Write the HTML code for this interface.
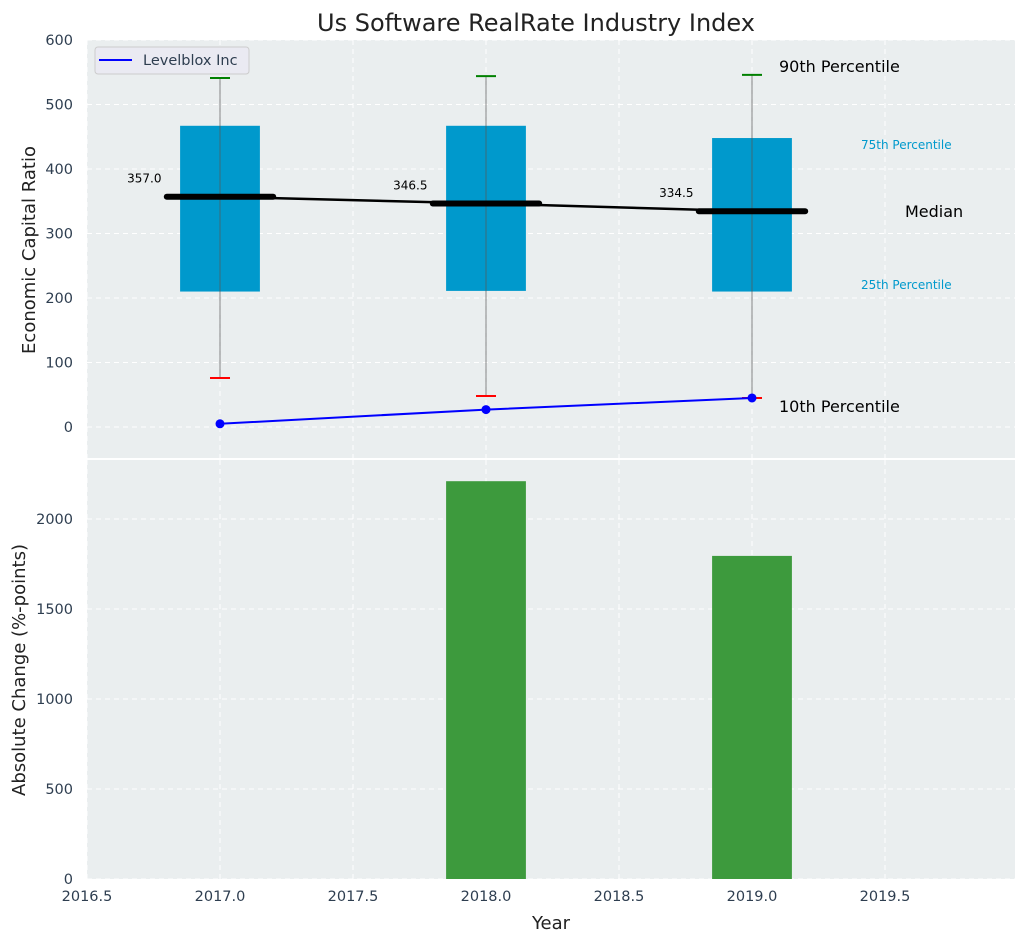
<!DOCTYPE html>
<html><head><meta charset="utf-8"><style>
body{margin:0;background:#fff;}
svg{display:block;font-family:"DejaVu Sans","Liberation Sans",sans-serif;}
</style></head><body>
<svg id="chart" width="1026" height="942" xmlns="http://www.w3.org/2000/svg"></svg>
<script>
const years=[2017,2018,2019];
const p10=[76,48,45];
const p25=[210,211,210];
const medians=[357.0,346.5,334.5];
const p75=[467,467,448];
const p90=[541,544,546];
const company=[5,27,45];
const changes=[0,2210,1795];
const xTicks=[2016.5,2017,2017.5,2018,2018.5,2019,2019.5];
const yTicksTop=[0,100,200,300,400,500,600];
const yTicksBot=[0,500,1000,1500,2000];

const svg=document.getElementById('chart');
const NS='http://www.w3.org/2000/svg';
function el(tag,attrs,parent,text){const e=document.createElementNS(NS,tag);for(const k in attrs)e.setAttribute(k,attrs[k]);if(text!==undefined)e.textContent=text;(parent||svg).appendChild(e);return e;}
const L=87,R=1015,S=266;
const xMin=2016.5;
const X=v=>L+(v-xMin)*S;
const T1=40,B1=458,T2=460,B2=879;
const Yt=v=>427-v*0.645;
const Yb=v=>879-v*0.18;

let e=el('rect',{x:L,y:T1,width:R-L,height:B1-T1,fill:'#eaeeef'});

e=el('rect',{x:L,y:T2,width:R-L,height:B2-T2,fill:'#eaeeef'});


xTicks.forEach(t=>{
  el('line',{x1:X(t),x2:X(t),y1:T1,y2:B1,stroke:'#fff','stroke-dasharray':'5,4','stroke-width':1});
  el('line',{x1:X(t),x2:X(t),y1:T2,y2:B2,stroke:'#fff','stroke-dasharray':'5,4','stroke-width':1});
  const tl=el('text',{x:X(t),y:901,'text-anchor':'middle','font-size':14.5,fill:'#2e3e50'},null,t.toFixed(1));
  
});
yTicksTop.forEach(t=>{
  el('line',{x1:L,x2:R,y1:Yt(t),y2:Yt(t),stroke:'#fff','stroke-dasharray':'5,4'});
  const tl=el('text',{x:73,y:Yt(t)+5,'text-anchor':'end','font-size':14.5,fill:'#2e3e50'},null,t);
  
});
yTicksBot.forEach(t=>{
  el('line',{x1:L,x2:R,y1:Yb(t),y2:Yb(t),stroke:'#fff','stroke-dasharray':'5,4'});
  const tl=el('text',{x:73,y:Yb(t)+5,'text-anchor':'end','font-size':14.5,fill:'#2e3e50'},null,t);
  
});

years.forEach((y,i)=>{
  const b=el('rect',{x:X(y-0.15),y:Yt(p75[i]),width:0.3*S,height:Yt(p25[i])-Yt(p75[i]),fill:'#0099cc'});
  
  el('line',{x1:X(y),x2:X(y),y1:Yt(p90[i]),y2:Yt(p10[i]),stroke:'#555','stroke-opacity':0.7,'stroke-width':1});
  const w1=el('line',{x1:X(y)-10,x2:X(y)+10,y1:Yt(p90[i]),y2:Yt(p90[i]),stroke:'green','stroke-width':2});
  
  const w2=el('line',{x1:X(y)-10,x2:X(y)+10,y1:Yt(p10[i]),y2:Yt(p10[i]),stroke:'red','stroke-width':2});
  
});
let pts=years.map((y,i)=>X(y)+','+Yt(medians[i])).join(' ');
e=el('polyline',{points:pts,fill:'none',stroke:'#000','stroke-width':2.5});

years.forEach((y,i)=>{
  const m=el('line',{x1:X(y-0.2),x2:X(y+0.2),y1:Yt(medians[i]),y2:Yt(medians[i]),stroke:'#000','stroke-width':6,'stroke-linecap':'round'});
  
  const t=el('text',{x:X(y-0.22),y:Yt(medians[i])-14,'text-anchor':'end','font-size':12,fill:'#000'},null,medians[i].toFixed(1));
  
});
pts=years.map((y,i)=>X(y)+','+Yt(company[i])).join(' ');
e=el('polyline',{points:pts,fill:'none',stroke:'blue','stroke-width':2});

years.forEach((y,i)=>{const c=el('circle',{cx:X(y),cy:Yt(company[i]),r:4.5,fill:'blue'});
  });

[['90th Percentile',779,72,16,'#000'],['10th Percentile',779,412,16,'#000'],['Median',905,217,16,'#000'],['75th Percentile',861,149,12,'#0099cc'],['25th Percentile',861,289,12,'#0099cc']].forEach(a=>{
  const t=el('text',{x:a[1],y:a[2],'font-size':a[3],fill:a[4]},null,a[0]);
  
});

const lg=el('g',{});

el('rect',{x:95,y:47,width:154,height:27,rx:3,fill:'#eaeaf2',stroke:'#ccc'},lg);
el('line',{x1:99,x2:132,y1:60,y2:60,stroke:'blue','stroke-width':2},lg);
el('text',{x:143,y:65,'font-size':14.5,fill:'#2e3e50'},lg,'Levelblox Inc');

years.forEach((y,i)=>{
  const b=el('rect',{x:X(y-0.15),y:Yb(changes[i]),width:0.3*S,height:B2-Yb(changes[i]),fill:'#3d9a3d'});
  
});

e=el('text',{x:536,y:31,'text-anchor':'middle','font-size':24,fill:'#222'},null,'Us Software RealRate Industry Index');

e=el('text',{x:35,y:250,'text-anchor':'middle','font-size':18,fill:'#222',transform:'rotate(-90 35 250)'},null,'Economic Capital Ratio');

e=el('text',{x:25,y:670,'text-anchor':'middle','font-size':18,fill:'#222',transform:'rotate(-90 25 670)'},null,'Absolute Change (%-points)');

e=el('text',{x:551,y:929,'text-anchor':'middle','font-size':18,fill:'#222'},null,'Year');

</script>
</body></html>
